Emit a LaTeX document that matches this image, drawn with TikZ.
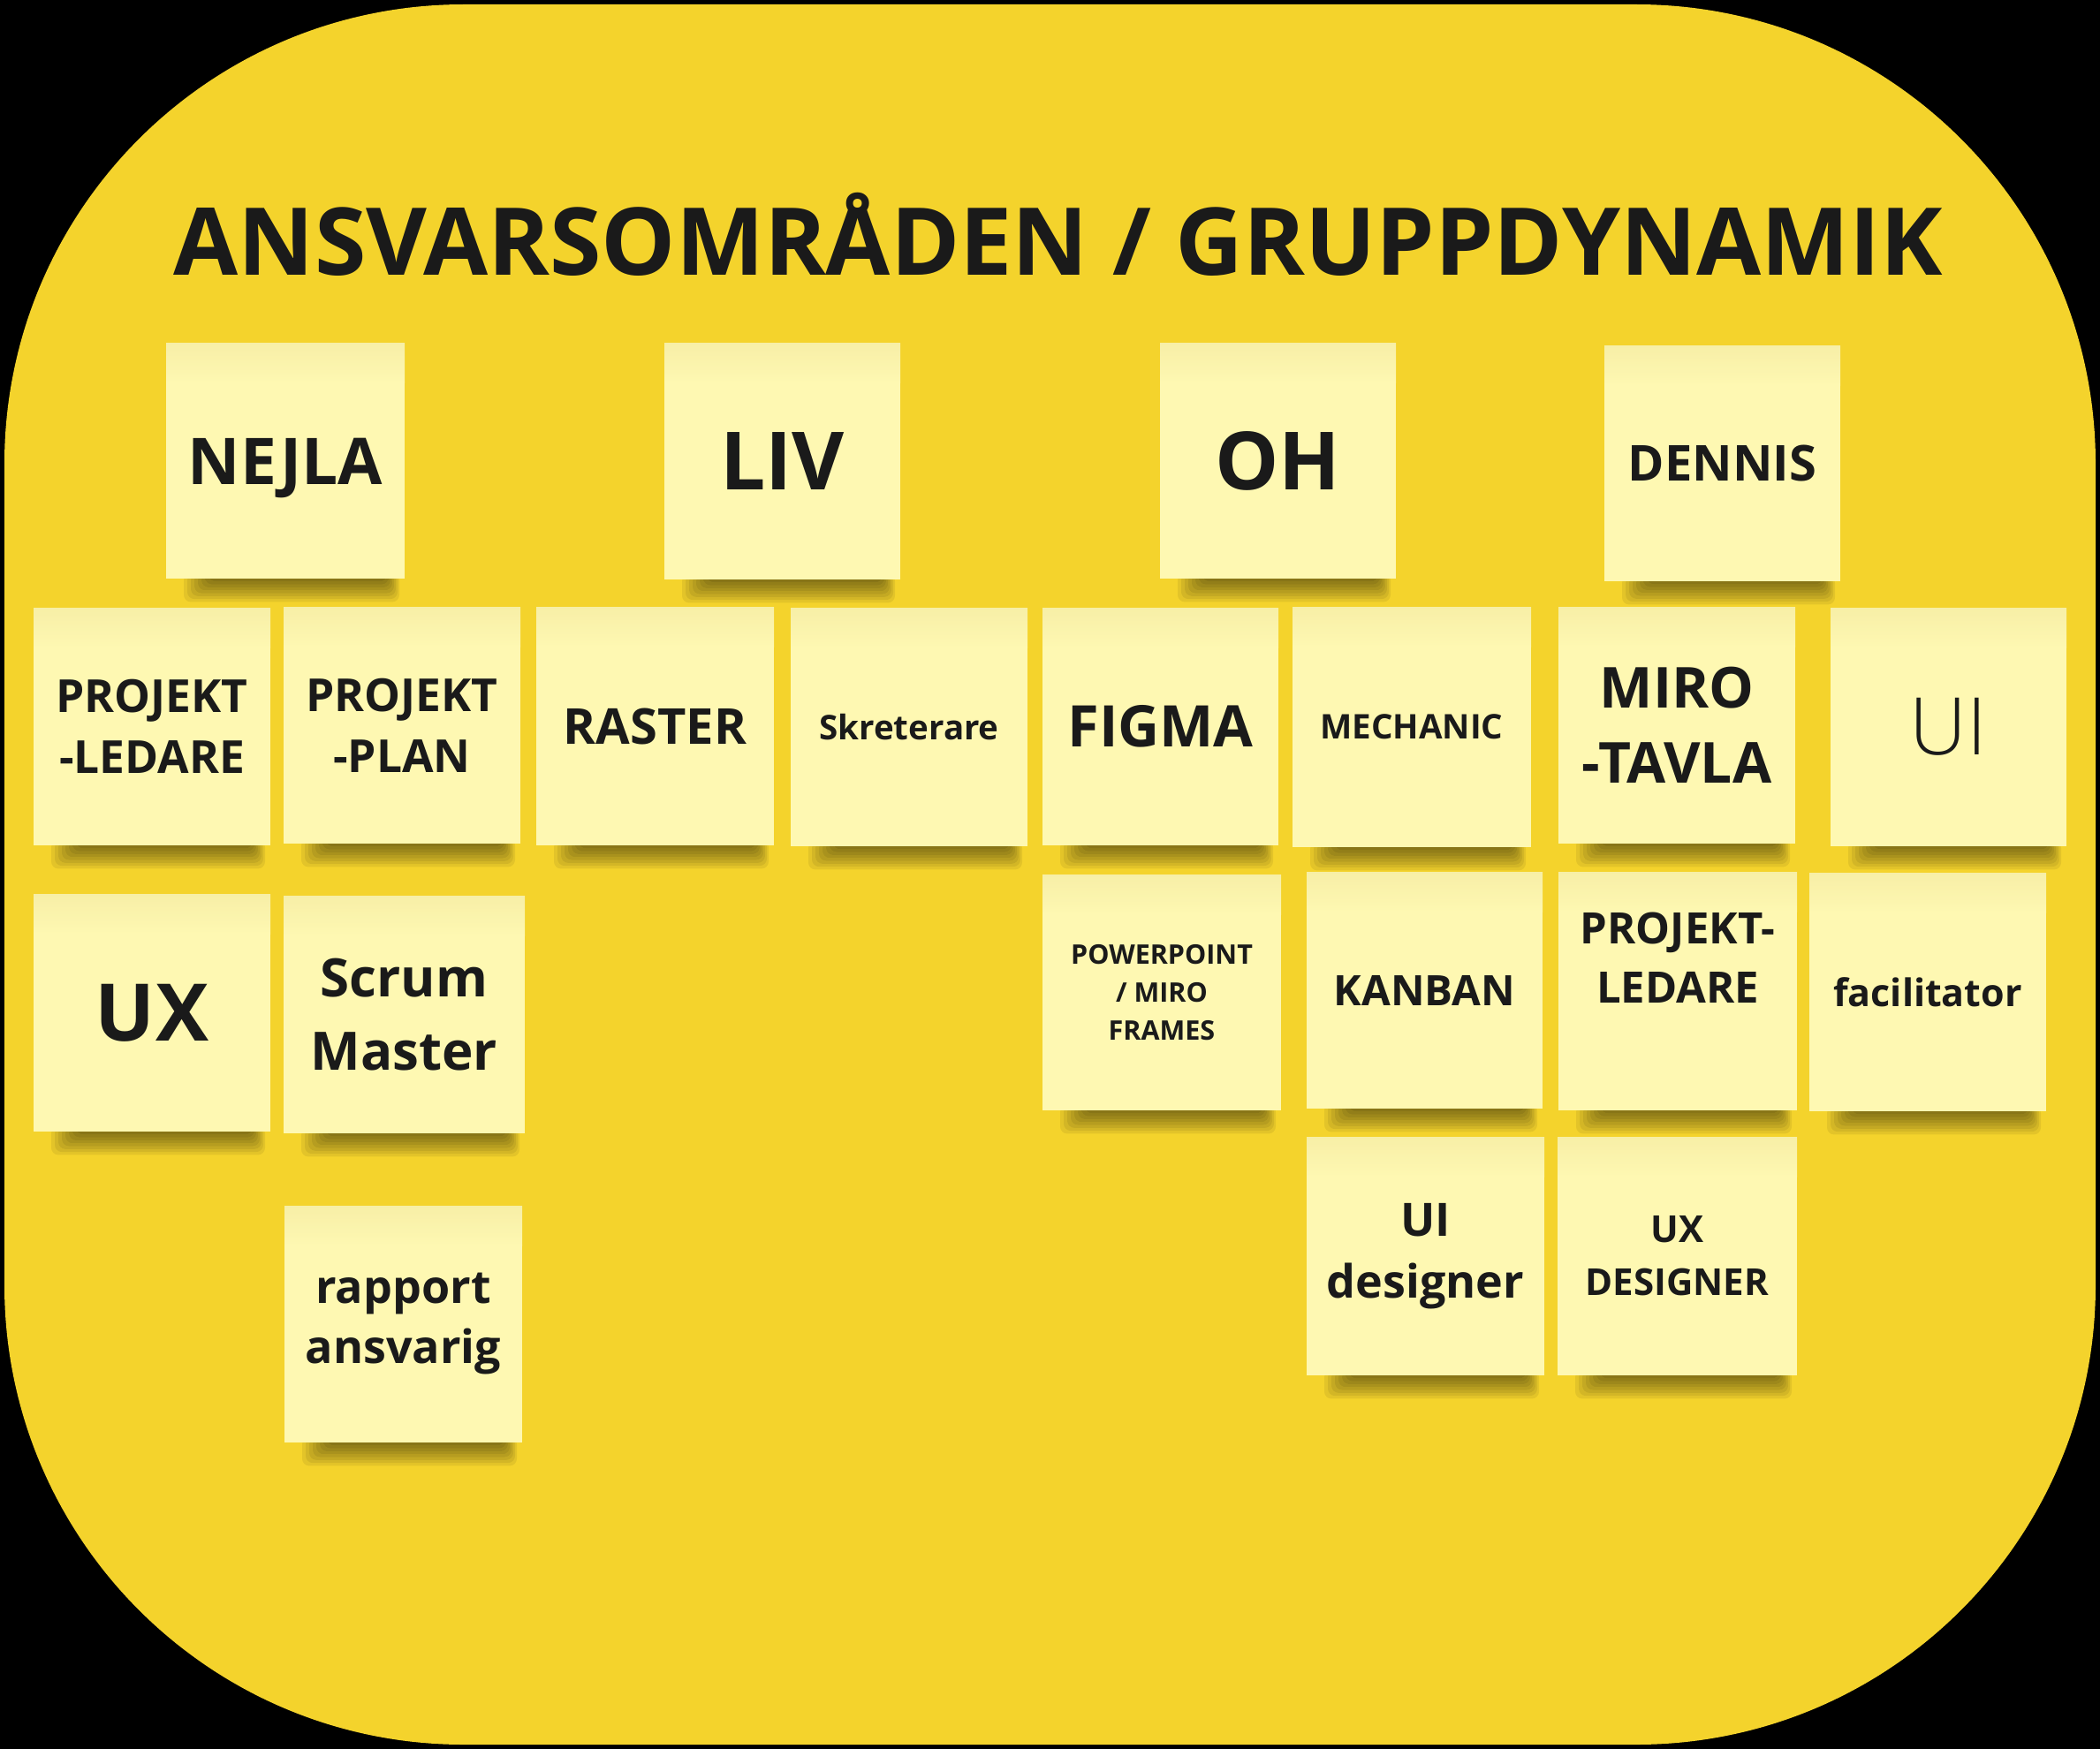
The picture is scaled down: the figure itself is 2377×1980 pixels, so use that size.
\documentclass[tikz,border=0pt]{standalone}
\usepackage{fontspec}
\setmainfont{Open Sans}
\newfontfamily\oslight{Open Sans Light}
\definecolor{board}{HTML}{F4D32C}
\definecolor{notecol}{HTML}{FEF8B2}
\definecolor{notetop}{HTML}{F6EDA4}
\definecolor{ink}{HTML}{1A1A1A}
\tikzset{
  note/.style={fill=notecol, draw=none, inner sep=0pt},
  notetext/.style={inner sep=0pt, align=center, text=ink},
  titletext/.style={inner sep=0pt, text=ink, font=\bfseries\fontsize{106}{120}\selectfont}
}
\newcommand\fs[2]{\fontsize{#1}{#2}\selectfont}
% #1 name, #2 x1, #3 y1, #4 x2, #5 y2, #6 font, #7 text, #8 vertical offset of text
\newcommand\sticky[8]{%
  \pgfmathsetmacro\sw{#4-#2}\pgfmathsetmacro\sh{#5-#3}%
  \foreach \i in {1,...,8}{%
    \fill[black, opacity=0.065, rounded corners=8pt] ({#2+52-4*\i},{#5-6}) rectangle ({#4-22+2*\i},{#5+3.3*\i});
  }%
  \node[note, minimum width=\sw pt, minimum height=\sh pt] (#1) at ({(#2+#4)/2},{(#3+#5)/2}) {};
  \shade[top color=notetop, bottom color=notecol, opacity=0.8] (#2,#3) rectangle (#4,{#3+45});
  \node[notetext, font={\bfseries #6}, yshift={-(#8)*1pt}] (#1-t) at (#1.center) {#7};
}
\begin{document}
\begin{tikzpicture}[x=1pt, y=-1pt]
\useasboundingbox (0,0) rectangle (2377,1980);
\fill[black] (0,0) rectangle (2377,1980);
\fill[board, rounded corners=520pt] (5,5) rectangle (2372,1975);

\node[titletext] (title) at (1198,265) {ANSVARSOMRÅDEN / GRUPPDYNAMIK};

% names
\sticky{nejla}{188}{388}{458}{655}{\fs{73}{80}}{NEJLA}{8}
\sticky{liv}{752}{388}{1019}{656}{\fs{91}{100}}{LIV}{0}
\sticky{oh}{1313}{388}{1580}{655}{\fs{91}{100}}{OH}{0}
\sticky{dennis}{1816}{391}{2083}{658}{\fs{56}{64}}{DENNIS}{0}

% row 1
\sticky{pl}{38}{688}{306}{957}{\fs{51.5}{69}}{PROJEKT\\-LEDARE}{0}
\sticky{pp}{321}{687}{589}{955}{\fs{51.5}{69}}{PROJEKT\\-PLAN}{0}
\sticky{raster}{607}{687}{876}{957}{\fs{56}{60}}{RASTER}{0}
\sticky{skr}{895}{688}{1163}{958}{\fs{38.5}{44}}{Skreterare}{0}
\sticky{figma}{1180}{688}{1447}{957}{\fs{65}{70}}{FIGMA}{0}
\sticky{mech}{1463}{687}{1733}{959}{\fs{38.5}{44}}{MECHANIC}{0}
\sticky{miro}{1764}{687}{2032}{955}{\fs{64}{85}}{MIRO\\-TAVLA}{0}
\sticky{ui}{2072}{688}{2339}{958}{\oslight\mdseries\fs{90}{96}}{UI}{0}

% row 2
\sticky{ux}{38}{1012}{306}{1281}{\fs{90}{96}}{UX}{0}
\sticky{scrum}{321}{1014}{594}{1283}{\fs{60}{83}}{Scrum\\Master}{0}
\sticky{ppt}{1180}{990}{1450}{1257}{\fs{30.5}{43}}{POWERPOINT\\/ MIRO\\FRAMES}{0}
\sticky{kanban}{1479}{987}{1746}{1255}{\fs{47.5}{52}}{KANBAN}{0}
\sticky{pl2}{1764}{987}{2034}{1257}{\fs{49}{67}}{PROJEKT-\\LEDARE}{-38}
\sticky{fac}{2048}{988}{2316}{1258}{\fs{43}{50}}{facilitator}{0}

% row 3
\sticky{rapport}{322}{1365}{591}{1633}{\fs{52}{68}}{rapport\\ansvarig}{0}
\sticky{uid}{1479}{1287}{1748}{1557}{\fs{52}{70}}{UI\\designer}{0}
\sticky{uxd}{1763}{1287}{2034}{1557}{\fs{42}{60}}{UX\\DESIGNER}{0}
\end{tikzpicture}
\end{document}
